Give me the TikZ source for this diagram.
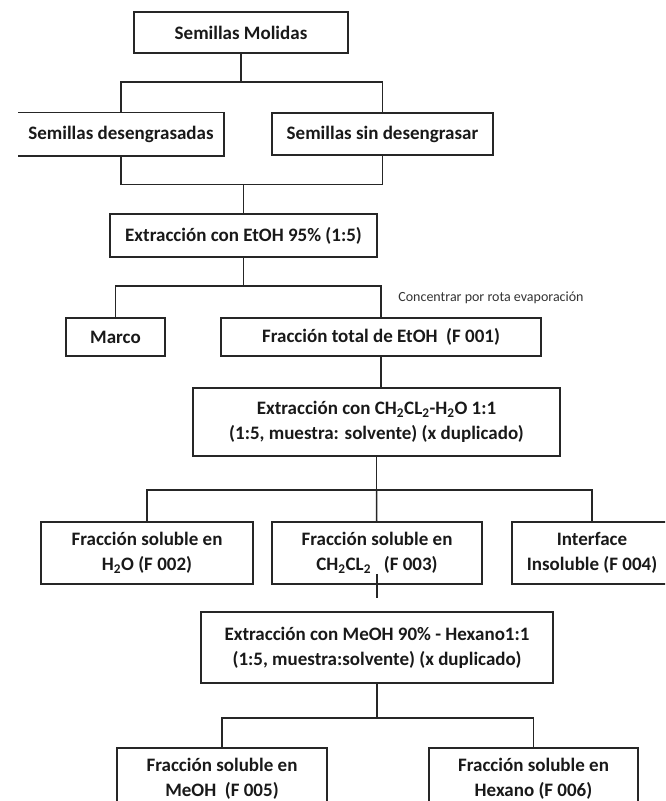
\documentclass[tikz,border=0pt]{standalone}
\usepackage{fontspec}
\setmainfont{Carlito}

\begin{document}
\begin{tikzpicture}[x=1pt,y=-1pt]
\tikzstyle{every node}+=[inner sep=0pt]
\tikzstyle{caja}=[draw=black!85, line width=1.5pt, align=center, text=black!90, font=\bfseries\fontsize{19}{25}\selectfont]
\tikzstyle{linea}=[draw=black!85, line width=1.5pt]
\useasboundingbox (0,0) rectangle (665,801);
\clip (0,0) rectangle (665,801);
% cajas
\node [caja, minimum width=214pt, minimum height=41pt] (sm) at (241,32.5) {Semillas Molidas};
\node [caja, draw=none, minimum width=204pt, minimum height=42pt] (sd) at (121,134) {Semillas desengrasadas};
\draw [linea] (sd.north west) -- (sd.north east) -- (sd.south east) -- (sd.south west);
\node [caja, minimum width=221pt, minimum height=42pt] (ssd) at (382.5,134) {Semillas sin desengrasar};
\node [caja, minimum width=267pt, minimum height=43pt] (etoh) at (243.5,235.5) {Extracción con EtOH 95\% (1:5)};
\node [caja, minimum width=99pt, minimum height=38pt] (marco) at (115.5,337) {Marco};
\node [caja, minimum width=320pt, minimum height=38pt] (ftot) at (381,337) {Fracción total de EtOH\ \ (F 001)};
\node [font=\fontsize{14}{16}\selectfont, text=black!80] (nota) at (491,298) {Concentrar por rota evaporación};
\node [caja, minimum width=367pt, minimum height=68pt] (ch) at (376.5,422) {Extracción con CH\textsubscript{2}CL\textsubscript{2}-H\textsubscript{2}O 1:1\\(1:5, muestra: solvente) (x duplicado)};
\node [caja, minimum width=212pt, minimum height=62pt] (f2) at (147,553) {Fracción soluble en\\H\textsubscript{2}O (F 002)};
\node [caja, minimum width=210pt, minimum height=62pt] (f3) at (377,553) {Fracción soluble en\\CH\textsubscript{2}CL\textsubscript{2}\ \ \ (F 003)};
\node [caja, minimum width=160pt, minimum height=62pt] (f4) at (592,553) {Interface\\Insoluble (F 004)};
\node [caja, minimum width=352pt, minimum height=71pt] (meoh) at (377,647.5) {Extracción con MeOH 90\% - Hexano1:1\\(1:5, muestra:solvente) (x duplicado)};
\node [caja, minimum width=210pt, minimum height=62pt] (f5) at (222,779) {Fracción soluble en\\MeOH\ \ (F 005)};
\node [caja, minimum width=209pt, minimum height=62pt] (f6) at (533.5,779) {Fracción soluble en\\Hexano (F 006)};
% uniones
\coordinate (b1) at ([yshift=-28pt]sm.south);
\coordinate (b2) at ([yshift=29pt]etoh.north);
\coordinate (b3) at ([yshift=-28pt]etoh.south);
\coordinate (b4) at ([yshift=-33pt]ch.south);
\coordinate (b5) at ([yshift=-34pt]meoh.south);
\draw [linea] (sm) -- (b1);
\draw [linea] (sd.north) |- (b1) -| (ssd.north);
\draw [linea] (sd.south) |- (b2) -| (ssd.south);
\draw [linea] (b2) -- (etoh);
\draw [linea] (etoh) -- (b3);
\draw [linea] (marco.north) |- (b3) -| (ftot.north);
\draw [linea] (ftot.south) -- (ftot.south |- ch.north);
\draw [linea] (ch) -- (b4);
\draw [linea] (f2.north) |- (b4) -| (f4.north);
\draw [linea] (b4) -- (f3);
\draw [linea] ([yshift=11pt]f3.south) -- ([yshift=13pt]meoh.north);
\draw [linea] (meoh) -- (b5);
\draw [linea] (f5.north) |- (b5) -| (f6.north);
\end{tikzpicture}
\end{document}
